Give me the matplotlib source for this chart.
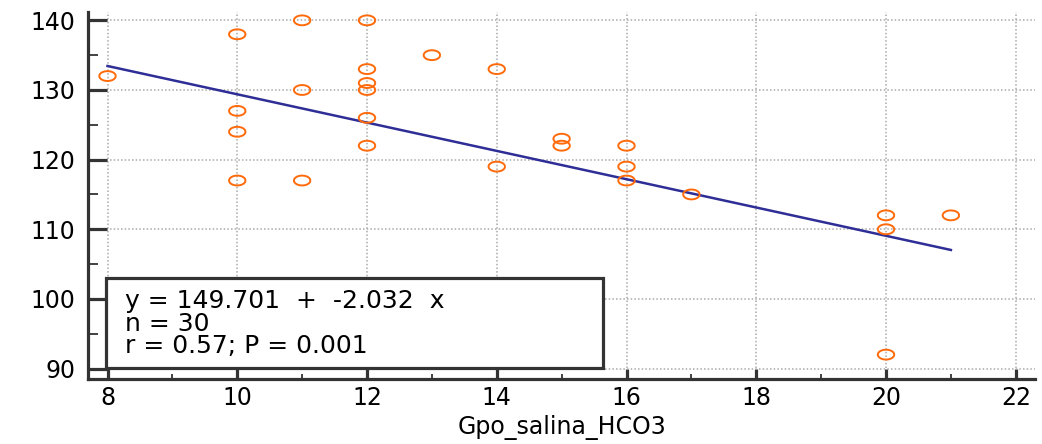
import matplotlib.pyplot as plt
import numpy as np
from matplotlib.path import Path
from matplotlib.patches import Rectangle
from matplotlib.ticker import MultipleLocator

plt.rcParams['font.family'] = ['DejaVu Sans']

# HCO3 values and the matching y values
hco3 = [8, 10, 10, 10, 10, 11, 11, 11, 12, 12, 12, 12, 12, 12,
        13, 14, 14, 15, 15, 16, 16, 16, 17, 20, 20, 20, 21]
yvals = [132, 138, 127, 124, 117, 140, 130, 117, 140, 133, 131, 130, 126, 122,
         135, 133, 119, 123, 122, 122, 119, 117, 115, 112, 110, 92, 112]

intercept = 149.701
slope = -2.032
n_obs = 30
r_val = 0.57
p_val = 0.001

# open ellipse marker, wider than tall
t = np.linspace(0, 2 * np.pi, 40)
ell = Path(np.column_stack([np.cos(t), 0.6 * np.sin(t)]))

fig = plt.figure(figsize=(10.42, 4.44), dpi=100)
ax = fig.add_axes([0.0845, 0.1464, 0.909, 0.8266])

ax.scatter(hco3, yvals, marker=ell, s=140, facecolors='none',
           edgecolors='#ff6a0a', linewidths=1.4, zorder=3)

xl = np.array([min(hco3), max(hco3)])
ax.plot(xl, intercept + slope * xl, color='#2e2e96', linewidth=1.8, zorder=2)

ax.set_xlim(7.7, 22.3)
ax.set_ylim(88.5, 141.2)
ax.xaxis.set_major_locator(MultipleLocator(2))
ax.xaxis.set_minor_locator(MultipleLocator(1))
ax.yaxis.set_major_locator(MultipleLocator(10))
ax.yaxis.set_minor_locator(MultipleLocator(5))

ax.grid(True, which='major', color='#aaaaaa', linestyle=(0, (1.0, 1.4)), linewidth=1.1)
ax.set_axisbelow(True)

for s in ['top', 'right']:
    ax.spines[s].set_visible(False)
for s in ['left', 'bottom']:
    ax.spines[s].set_linewidth(2.3)
    ax.spines[s].set_color('#333333')

ax.tick_params(axis='y', which='major', direction='in', length=14, width=2.3,
               color='#333333', labelsize=17, pad=9)
ax.tick_params(axis='y', which='minor', direction='in', length=7, width=1.3, color='#333333')
ax.tick_params(axis='x', which='major', direction='in', length=7, width=2.3,
               color='#333333', labelsize=17, pad=5)
ax.tick_params(axis='x', which='minor', direction='in', length=3.5, width=1.3, color='#333333')

ax.set_xlabel('Gpo_salina_HCO3', fontsize=17, labelpad=4)

# statistics box
ax.add_patch(Rectangle((0.019, 0.030), 0.525, 0.245, transform=ax.transAxes,
                       facecolor='white', edgecolor='#333333', linewidth=2.3, zorder=5))
txt = ('y = %.3f  +  %.3f  x\nn = %d\nr = %.2f; P = %.3f'
       % (intercept, slope, n_obs, r_val, p_val))
ax.text(0.039, 0.150, txt, transform=ax.transAxes, fontsize=18,
        va='center', ha='left', linespacing=0.92, zorder=6)

plt.savefig('out.png', dpi=100)
